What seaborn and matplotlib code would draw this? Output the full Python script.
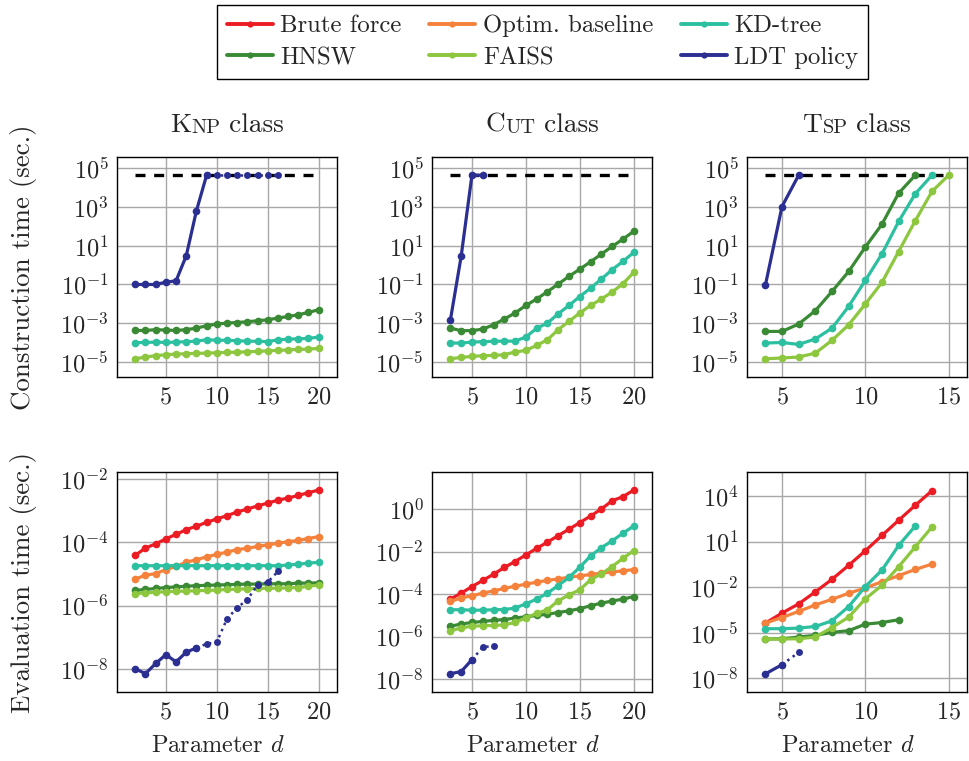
import numpy as np
import pandas as pd
import seaborn as sns
import matplotlib.pyplot as plt
from matplotlib.lines import Line2D
from matplotlib.ticker import FuncFormatter, NullLocator

sns.set_style("whitegrid")
plt.rcParams['font.family'] = ['cmr10', 'DejaVu Serif']
plt.rcParams['mathtext.fontset'] = 'cm'
plt.rcParams['axes.unicode_minus'] = False
plt.rcParams['axes.formatter.use_mathtext'] = True

# colours
colors = {
    'Brute force': '#ec1c24',
    'Optim. baseline': '#f5823c',
    'KD-tree': '#2cbfa0',
    'HNSW': '#3a8a35',
    'FAISS': '#8dc63f',
    'LDT policy': '#2b2f91',
}
methods = list(colors)

# timeout (12 hours)
timeout = 43200.0

# ---- data: values, stored as log10(seconds) ----

# Knp construction, d = 2..20
knp_d = list(range(2, 21))
knp_build_hnsw = [-3.37, -3.37, -3.33, -3.35, -3.37, -3.33, -3.25, -3.13, -3.04, -2.99,
                  -2.96, -2.92, -2.87, -2.82, -2.73, -2.65, -2.56, -2.44, -2.30]
knp_build_kd = [-4.00, -3.99, -3.97, -3.99, -3.97, -3.95, -3.92, -3.85, -3.87, -3.88,
                -3.90, -3.92, -3.93, -3.95, -3.85, -3.82, -3.80, -3.78, -3.71]
knp_build_faiss = [-4.83, -4.74, -4.67, -4.62, -4.59, -4.57, -4.55, -4.54, -4.52, -4.50,
                   -4.49, -4.47, -4.45, -4.42, -4.40, -4.37, -4.35, -4.33, -4.30]
knp_build_ldt_d = list(range(2, 10))
knp_build_ldt = [-1.0, -1.0, -1.0, -0.88, -0.81, 0.48, 2.80, 4.635]
knp_build_ldt_dot_d = list(range(9, 17))
knp_build_ldt_dot = [4.635] * 8

# Cut construction, d = 3..20
cut_d = list(range(3, 21))
cut_build_hnsw = [-3.25, -3.38, -3.38, -3.30, -3.08, -2.78, -2.47, -2.08, -1.75, -1.37,
                  -0.98, -0.58, -0.21, 0.17, 0.57, 0.96, 1.34, 1.74]
cut_build_kd = [-4.02, -4.02, -3.97, -3.95, -3.93, -3.92, -3.92, -3.71, -3.26, -2.99,
                -2.51, -2.08, -1.62, -1.19, -0.72, -0.24, 0.19, 0.65]
cut_build_faiss = [-4.83, -4.76, -4.71, -4.67, -4.66, -4.62, -4.48, -4.40, -4.14, -3.85,
                   -3.33, -2.90, -2.47, -2.08, -1.75, -1.39, -0.96, -0.38]
cut_build_ldt_d = [3, 4, 5, 6]
cut_build_ldt = [-2.84, 0.45, 4.635, 4.635]

# Tsp construction
tsp_build_hnsw_d = list(range(4, 14))
tsp_build_hnsw = [-3.42, -3.42, -3.04, -2.35, -1.36, -0.33, 0.93, 2.11, 3.71, 4.635]
tsp_build_kd_d = list(range(4, 15))
tsp_build_kd = [-4.02, -3.99, -4.09, -3.81, -3.25, -2.13, -0.79, 0.58, 2.25, 3.68, 4.635]
tsp_build_faiss_d = list(range(4, 16))
tsp_build_faiss = [-4.83, -4.79, -4.74, -4.54, -3.88, -3.08, -2.01, -0.89, 0.70, 2.29,
                   3.80, 4.635]
tsp_build_ldt_d = [4, 5, 6]
tsp_build_ldt = [-1.05, 3.02, 4.635]

# Knp evaluation, d = 2..20
knp_eval_brute = [-4.41, -4.18, -4.05, -3.89, -3.75, -3.60, -3.49, -3.37, -3.26, -3.16,
                  -3.04, -2.95, -2.85, -2.76, -2.67, -2.60, -2.52, -2.43, -2.35]
knp_eval_optim = [-5.16, -5.04, -4.99, -4.86, -4.76, -4.63, -4.55, -4.46, -4.38, -4.31,
                  -4.23, -4.19, -4.13, -4.08, -4.03, -3.98, -3.94, -3.88, -3.82]
knp_eval_kd = [-4.74, -4.74, -4.74, -4.74, -4.74, -4.74, -4.74, -4.74, -4.74, -4.74,
               -4.74, -4.74, -4.74, -4.74, -4.74, -4.72, -4.69, -4.66, -4.63]
knp_eval_hnsw = [-5.52, -5.49, -5.46, -5.43, -5.41, -5.39, -5.37, -5.36, -5.35, -5.34,
                 -5.33, -5.32, -5.32, -5.31, -5.31, -5.31, -5.29, -5.29, -5.28]
knp_eval_faiss = [-5.62, -5.60, -5.58, -5.56, -5.55, -5.54, -5.53, -5.52, -5.51, -5.49,
                  -5.48, -5.47, -5.46, -5.45, -5.45, -5.44, -5.43, -5.39, -5.35]
knp_eval_ldt_d = list(range(2, 9))
knp_eval_ldt = [-8.00, -8.15, -7.83, -7.55, -7.78, -7.47, -7.34]
knp_eval_ldt_dot_d = list(range(8, 17))
knp_eval_ldt_dot = [-7.34, -7.21, -7.15, -6.42, -6.07, -5.81, -5.35, -5.26, -4.92]

# Cut evaluation, d = 3..20
cut_eval_brute = [-4.24, -3.96, -3.65, -3.36, -3.07, -2.75, -2.47, -2.16, -1.85, -1.56,
                  -1.25, -0.95, -0.64, -0.33, 0.00, 0.39, 0.58, 0.89]
cut_eval_optim = [-4.35, -4.19, -4.08, -3.96, -3.85, -3.74, -3.63, -3.54, -3.44, -3.36,
                  -3.29, -3.21, -3.15, -3.08, -3.02, -2.96, -2.91, -2.85]
cut_eval_kd = [-4.74, -4.74, -4.76, -4.76, -4.74, -4.73, -4.66, -4.46, -4.24, -3.96,
               -3.60, -3.22, -2.74, -2.21, -1.82, -1.50, -1.14, -0.80]
cut_eval_hnsw = [-5.52, -5.41, -5.34, -5.29, -5.24, -5.20, -5.13, -5.07, -5.01, -4.95,
                 -4.87, -4.79, -4.69, -4.55, -4.43, -4.33, -4.24, -4.12]
cut_eval_faiss = [-5.74, -5.59, -5.52, -5.49, -5.48, -5.45, -5.34, -5.12, -4.91, -4.74,
                  -4.32, -4.04, -3.80, -3.33, -3.05, -2.71, -2.32, -1.96]
cut_eval_ldt_d = [3, 4, 5]
cut_eval_ldt = [-7.75, -7.65, -7.09]
cut_eval_ldt_dot_d = [5, 6, 7]
cut_eval_ldt_dot = [-7.09, -6.51, -6.43]

# Tsp evaluation
tsp_eval_brute_d = list(range(4, 15))
tsp_eval_brute = [-4.38, -3.72, -3.11, -2.32, -1.49, -0.57, 0.39, 1.40, 2.40, 3.39, 4.35]
tsp_eval_optim = [-4.38, -4.01, -3.61, -3.18, -2.81, -2.41, -2.06, -1.65, -1.25, -0.84, -0.49]
tsp_eval_kd_d = list(range(4, 14))
tsp_eval_kd = [-4.75, -4.75, -4.71, -4.60, -4.23, -3.29, -1.97, -0.88, 0.74, 2.03]
tsp_eval_hnsw_d = list(range(4, 13))
tsp_eval_hnsw = [-5.43, -5.41, -5.30, -5.19, -4.99, -4.88, -4.45, -4.34, -4.16]
tsp_eval_faiss = [-5.43, -5.43, -5.41, -5.30, -4.67, -3.99, -2.78, -1.89, -0.66, 0.65, 1.96]
tsp_eval_ldt_d = [4, 5]
tsp_eval_ldt = [-7.73, -7.12]
tsp_eval_ldt_dot_d = [5, 6]
tsp_eval_ldt_dot = [-7.12, -6.31]

col_titles = [('K', 'NP'), ('C', 'UT'), ('T', 'SP')]
col_xlims = [(0.2, 21.8), (1.3, 21.7), (2.9, 16.1)]
col_xticks = [[5, 10, 15, 20], [5, 10, 15, 20], [5, 10, 15]]
timeout_spans = [(2, 20), (3, 20), (4, 15)]


def long_frame(series):
    rows = []
    for name, (d, logv) in series.items():
        for x, v in zip(d, logv):
            rows.append({'d': x, 't': 10.0 ** v, 'method': name})
    return pd.DataFrame(rows)


def log_fmt(v, pos):
    return r'$10^{%d}$' % int(round(np.log10(v)))


fig = plt.figure(figsize=(9.7, 7.61), dpi=100)
lefts = [0.1206, 0.4454, 0.7701]
width = 0.2268
bottoms = [0.5046, 0.0907]
height = 0.289

axes = [[fig.add_axes([l, b, width, height]) for l in lefts] for b in bottoms]

panels = [
    [  # construction row
        ({'HNSW': (knp_d, knp_build_hnsw), 'KD-tree': (knp_d, knp_build_kd),
          'FAISS': (knp_d, knp_build_faiss), 'LDT policy': (knp_build_ldt_d, knp_build_ldt)},
         (knp_build_ldt_dot_d, knp_build_ldt_dot)),
        ({'HNSW': (cut_d, cut_build_hnsw), 'KD-tree': (cut_d, cut_build_kd),
          'FAISS': (cut_d, cut_build_faiss), 'LDT policy': (cut_build_ldt_d, cut_build_ldt)},
         None),
        ({'HNSW': (tsp_build_hnsw_d, tsp_build_hnsw), 'KD-tree': (tsp_build_kd_d, tsp_build_kd),
          'FAISS': (tsp_build_faiss_d, tsp_build_faiss),
          'LDT policy': (tsp_build_ldt_d, tsp_build_ldt)},
         None),
    ],
    [  # evaluation row
        ({'Brute force': (knp_d, knp_eval_brute), 'Optim. baseline': (knp_d, knp_eval_optim),
          'KD-tree': (knp_d, knp_eval_kd), 'HNSW': (knp_d, knp_eval_hnsw),
          'FAISS': (knp_d, knp_eval_faiss), 'LDT policy': (knp_eval_ldt_d, knp_eval_ldt)},
         (knp_eval_ldt_dot_d, knp_eval_ldt_dot)),
        ({'Brute force': (cut_d, cut_eval_brute), 'Optim. baseline': (cut_d, cut_eval_optim),
          'KD-tree': (cut_d, cut_eval_kd), 'HNSW': (cut_d, cut_eval_hnsw),
          'FAISS': (cut_d, cut_eval_faiss), 'LDT policy': (cut_eval_ldt_d, cut_eval_ldt)},
         (cut_eval_ldt_dot_d, cut_eval_ldt_dot)),
        ({'Brute force': (tsp_eval_brute_d, tsp_eval_brute),
          'Optim. baseline': (tsp_eval_brute_d, tsp_eval_optim),
          'KD-tree': (tsp_eval_kd_d, tsp_eval_kd), 'HNSW': (tsp_eval_hnsw_d, tsp_eval_hnsw),
          'FAISS': (tsp_eval_brute_d, tsp_eval_faiss),
          'LDT policy': (tsp_eval_ldt_d, tsp_eval_ldt)},
         (tsp_eval_ldt_dot_d, tsp_eval_ldt_dot)),
    ],
]

row_ylims = [
    [(10 ** -5.77, 10 ** 5.57)] * 3,
    [(10 ** -8.73, 10 ** -1.78), (10 ** -8.61, 10 ** 1.74), (10 ** -8.92, 10 ** 5.58)],
]
row_yticks = [
    [range(-5, 6, 2)] * 3,
    [range(-8, -1, 2), range(-8, 1, 2), range(-8, 5, 3)],
]

for r in range(2):
    for c in range(3):
        ax = axes[r][c]
        series, dotted = panels[r][c]
        ax.set_yscale('log')
        if r == 0:
            x0, x1 = timeout_spans[c]
            ax.plot([x0, x1], [timeout, timeout], color='black', lw=2.4,
                    dashes=(3, 2.6), zorder=2)
        df = long_frame(series)
        order = [m for m in methods if m in series]
        sns.lineplot(data=df, x='d', y='t', hue='method', hue_order=order,
                     palette=colors, marker='o', markersize=5.5, markeredgewidth=0,
                     linewidth=2.3, legend=False, ax=ax, zorder=3)
        if dotted is not None:
            sns.lineplot(x=dotted[0], y=[10.0 ** v for v in dotted[1]],
                         color=colors['LDT policy'], linestyle=':', linewidth=1.8,
                         marker='o', markersize=5, markeredgewidth=0, ax=ax, zorder=3)
        ax.set_xlim(*col_xlims[c])
        ax.set_ylim(*row_ylims[r][c])
        ax.set_xticks(col_xticks[c])
        ax.set_yticks([10.0 ** k for k in row_yticks[r][c]])
        ax.yaxis.set_minor_locator(NullLocator())
        ax.yaxis.set_major_formatter(FuncFormatter(log_fmt))
        ax.grid(True, which='major', color='#a8a8a8', linewidth=1.0)
        ax.tick_params(labelsize=17.5, direction='in', length=3, color='#555555')
        ax.tick_params(axis='x', pad=7)
        ax.tick_params(axis='y', pad=6)
        for s in ax.spines.values():
            s.set_color('black')
            s.set_linewidth(1.0)
        ax.set_xlabel('')
        ax.set_ylabel('')

axes[0][0].set_ylabel('Construction time (sec.)', fontsize=19.4)
axes[1][0].set_ylabel('Evaluation time (sec.)', fontsize=19.4)
for r in range(2):
    axes[r][0].yaxis.set_label_coords(-0.365, 0.5)
for c in range(3):
    axes[1][c].set_xlabel('Parameter $d$', fontsize=17.5)
    axes[1][c].xaxis.set_label_coords(0.46, -0.195)

# column titles with small caps imitation
title_parts = []
for c, (big, small) in enumerate(col_titles):
    ax = axes[0][c]
    t1 = ax.text(0.2, 1.114, big, transform=ax.transAxes, fontsize=19.7, va='baseline')
    t2 = ax.annotate(small, xy=(1, 0), xycoords=t1, va='bottom', fontsize=14.7,
                     annotation_clip=False)
    t3 = ax.annotate(' class', xy=(1, 0), xycoords=t2, va='bottom', fontsize=19.7,
                     annotation_clip=False)
    title_parts.append((ax, t1, t3))

fig.canvas.draw()
renderer = fig.canvas.get_renderer()
for ax, t1, t3 in title_parts:
    b1 = t1.get_window_extent(renderer)
    b3 = t3.get_window_extent(renderer)
    mid = (b1.x0 + b3.x1) / 2
    axb = ax.get_window_extent(renderer)
    target = (axb.x0 + axb.x1) / 2
    shift = (target - mid) / axb.width
    x, y = t1.get_position()
    t1.set_position((x + shift, y))

# legend: rows are Brute/Optim/KD and HNSW/FAISS/LDT
handles = {m: Line2D([], [], color=colors[m], lw=2.8, marker='o', markersize=4.5,
                     markeredgewidth=0) for m in methods}
leg_order = ['Brute force', 'HNSW', 'Optim. baseline', 'FAISS', 'KD-tree', 'LDT policy']
leg = fig.legend([handles[m] for m in leg_order], leg_order, ncol=3,
                 loc='upper center', bbox_to_anchor=(0.5595, 0.9934), fontsize=17.8,
                 frameon=True, fancybox=False, edgecolor='black', framealpha=1,
                 handlelength=1.86, handletextpad=0.3, columnspacing=1.12,
                 labelspacing=0.38, borderpad=0.4, borderaxespad=0)
leg.get_frame().set_linewidth(1.0)

fig.savefig('out.png', dpi=100)
